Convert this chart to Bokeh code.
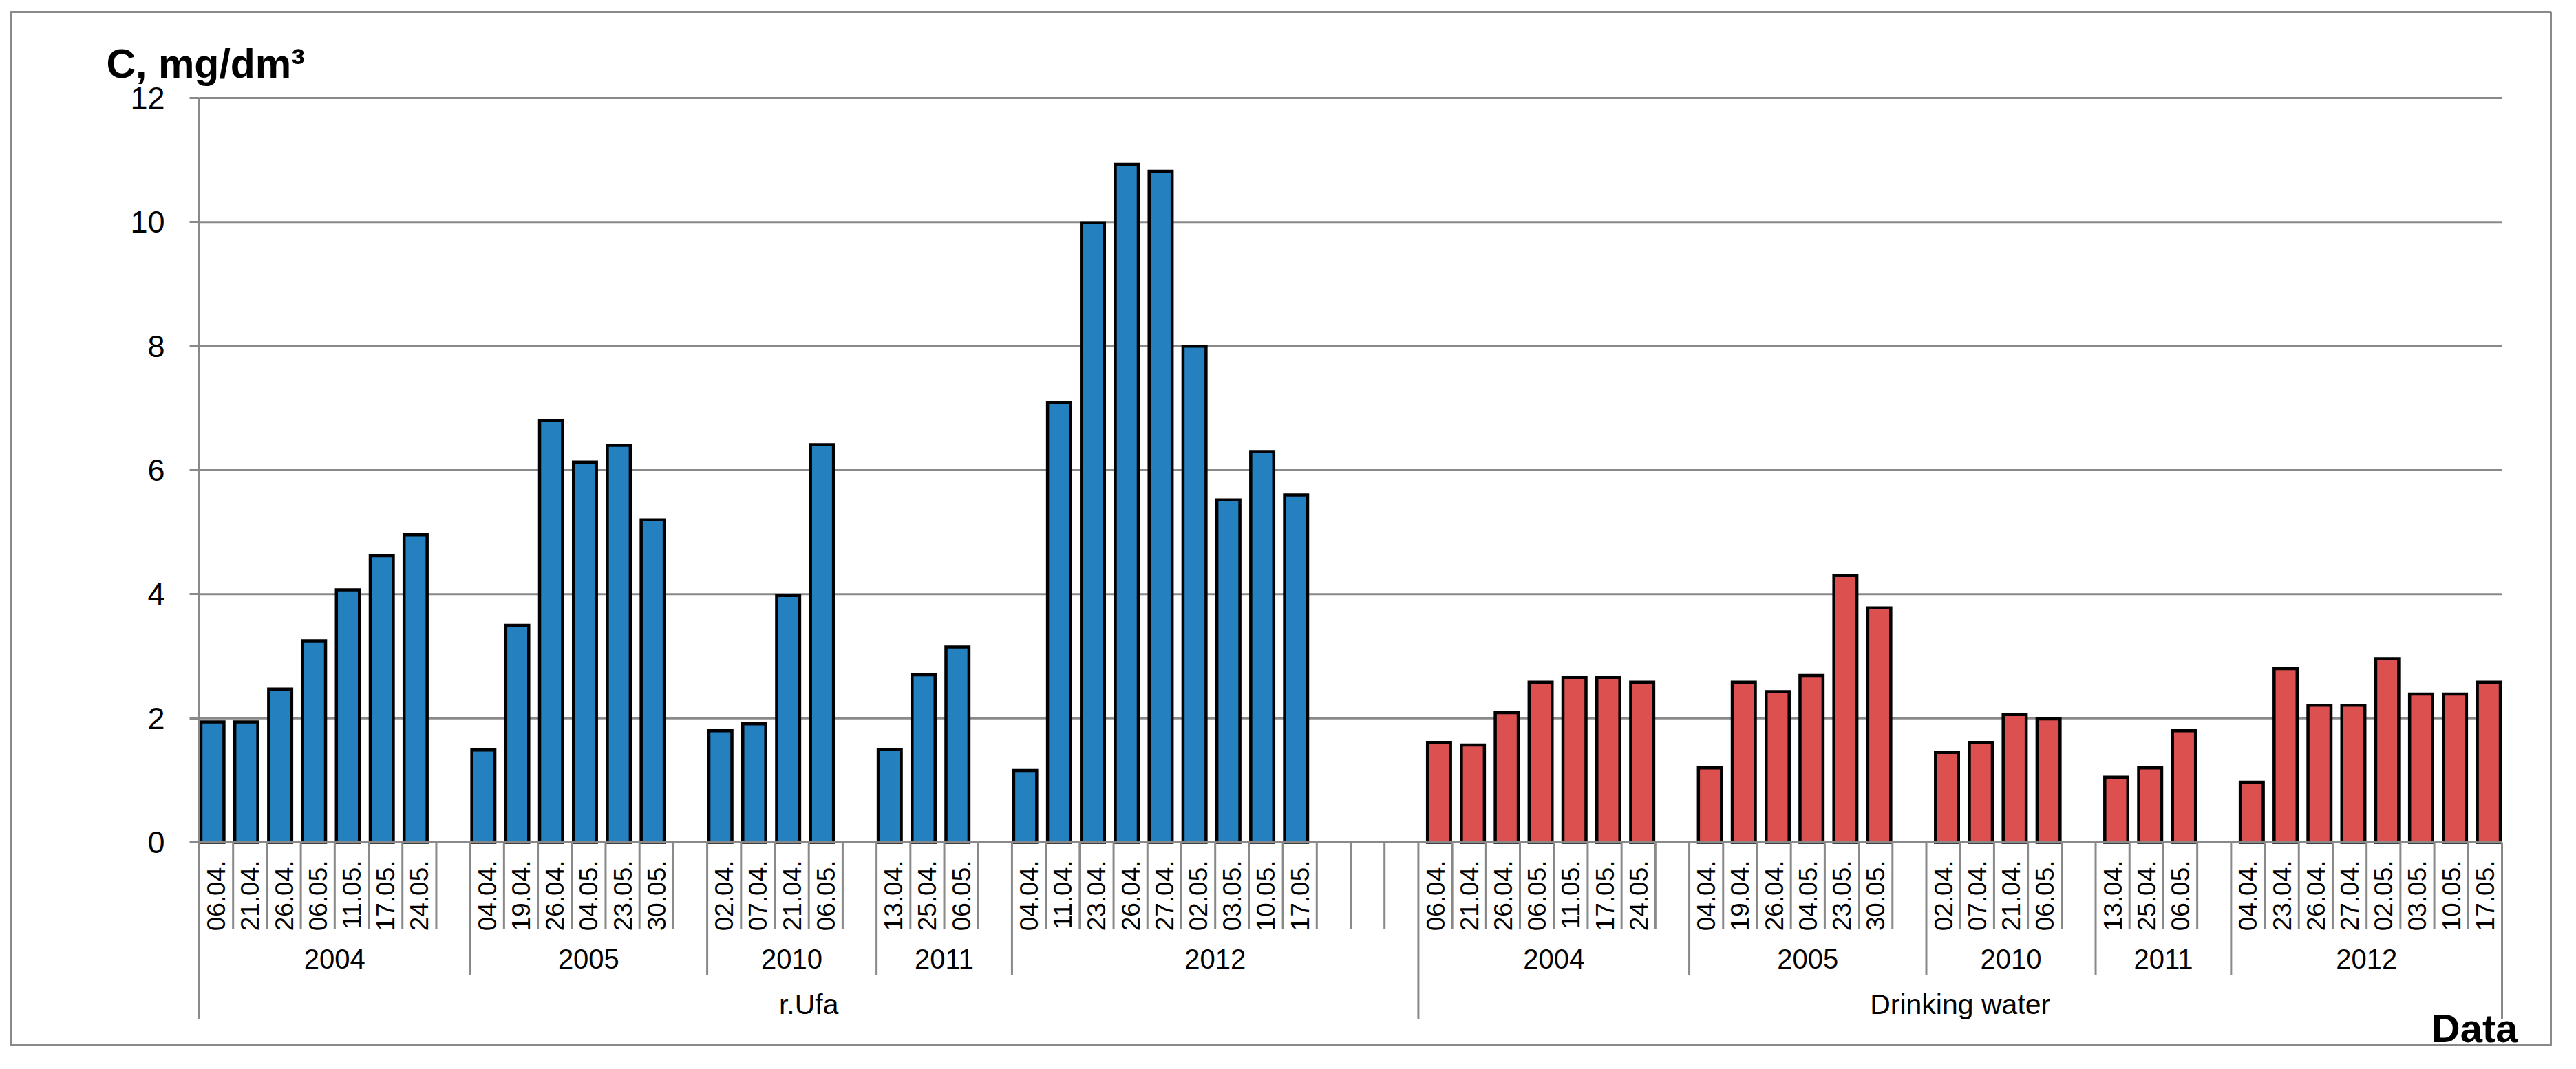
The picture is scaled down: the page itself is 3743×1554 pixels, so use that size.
import math
from bokeh.plotting import figure
from bokeh.models import ColumnDataSource, Range1d, FixedTicker
from bokeh.core.properties import value
from bokeh.embed import file_html
from bokeh.resources import INLINE

# ---------------- data ----------------
groups = ["r.Ufa", "Drinking water"]
years = ["2004", "2005", "2010", "2011", "2012"]

ufa_dates = [
    ["06.04.", "21.04.", "26.04.", "06.05.", "11.05.", "17.05.", "24.05.", ""],
    ["04.04.", "19.04.", "26.04.", "04.05.", "23.05.", "30.05.", ""],
    ["02.04.", "07.04.", "21.04.", "06.05.", ""],
    ["13.04.", "25.04.", "06.05.", ""],
    ["04.04.", "11.04.", "23.04.", "26.04.", "27.04.", "02.05.", "03.05.", "10.05.", "17.05.", "", "", ""],
]
ufa_values = [
    [1.94, 1.94, 2.47, 3.25, 4.07, 4.62, 4.96, None],
    [1.49, 3.5, 6.8, 6.13, 6.4, 5.2, None],
    [1.8, 1.91, 3.98, 6.41, None],
    [1.5, 2.7, 3.15, None],
    [1.16, 7.09, 9.99, 10.93, 10.82, 8.0, 5.52, 6.3, 5.6, None, None, None],
]
drink_dates = [
    ["06.04.", "21.04.", "26.04.", "06.05.", "11.05.", "17.05.", "24.05.", ""],
    ["04.04.", "19.04.", "26.04.", "04.05.", "23.05.", "30.05.", ""],
    ["02.04.", "07.04.", "21.04.", "06.05.", ""],
    ["13.04.", "25.04.", "06.05.", ""],
    ["04.04.", "23.04.", "26.04.", "27.04.", "02.05.", "03.05.", "10.05.", "17.05."],
]
drink_values = [
    [1.61, 1.57, 2.09, 2.58, 2.66, 2.66, 2.58, None],
    [1.2, 2.58, 2.43, 2.69, 4.3, 3.78, None],
    [1.45, 1.61, 2.06, 1.99, None],
    [1.05, 1.2, 1.8, None],
    [0.97, 2.8, 2.21, 2.21, 2.96, 2.39, 2.39, 2.58],
]
y_ticks = [0, 2, 4, 6, 8, 10, 12]
y_title = "C, mg/dm\u00b3"
x_title = "Data"

# ---------------- styles / layout ----------------
FONT = "Liberation Sans"
GRAY = "#898989"
BLUE = "#2580C0"
RED = "#DD5050"
W, H = 3727, 1538

# build category slots from the data
labels, centers = [], []
blue_x, blue_top, red_x, red_top = [], [], [], []
year_spans, group_spans = [], []
k = 0
for gi, (gname, dlist, vlist) in enumerate([(groups[0], ufa_dates, ufa_values),
                                           (groups[1], drink_dates, drink_values)]):
    g0 = k
    for yname, ds, vs in zip(years, dlist, vlist):
        y0 = k
        for d, v in zip(ds, vs):
            labels.append(d)
            centers.append(k + 0.5)
            if v is not None:
                if gi == 0:
                    blue_x.append(k + 0.5 - 0.11)
                    blue_top.append(v)
                else:
                    red_x.append(k + 0.5 + 0.11)
                    red_top.append(v)
            k += 1
        year_spans.append((y0, k, yname))
    group_spans.append((g0, k, gname))
n_slots = k
y_max = max(y_ticks)

# pixel geometry (figure coordinates)
FL, FT, FR, FB = 15, 17, 3706, 1519     # chart border = plot frame
X0_PX, XN_PX = 289, 3635                # first / last category boundary
Y0_PX, YM_PX = 1224, 142                # value 0 / value y_max
PPX = (XN_PX - X0_PX) / n_slots
PPY = (Y0_PX - YM_PX) / y_max

p = figure(width=W, height=H, output_backend="svg", toolbar_location=None,
           x_range=Range1d((FL - X0_PX) / PPX, (FR - X0_PX) / PPX),
           y_range=Range1d((Y0_PX - FB) / PPY, (Y0_PX - FT) / PPY),
           x_axis_location=None, y_axis_location="left",
           min_border_left=FL, min_border_top=FT,
           min_border_right=W - FR, min_border_bottom=H - FB)
p.outline_line_color = GRAY
p.outline_line_width = 3
p.background_fill_color = "white"
p.border_fill_color = "white"
for g in p.grid:
    g.visible = False


def dy(px):
    return (Y0_PX - px) / PPY


def dx(px):
    return (px - X0_PX) / PPX


# y axis, drawn at category boundary 0
ax = p.yaxis[0]
ax.fixed_location = 0
ax.ticker = FixedTicker(ticks=y_ticks)
ax.axis_line_color = None
ax.major_tick_line_color = GRAY
ax.major_tick_line_width = 3
ax.major_tick_out = 14
ax.major_tick_in = 0
ax.minor_tick_line_color = None
ax.major_label_text_font = FONT
ax.major_label_text_font_size = "45px"
ax.major_label_text_color = "black"
ax.major_label_standoff = 36

# horizontal grid lines
p.segment(x0=[0] * len(y_ticks), x1=[n_slots] * len(y_ticks), y0=y_ticks, y1=y_ticks,
          line_color=GRAY, line_width=3)

# bars
p.vbar(x=blue_x, top=blue_top, bottom=0, width=0.68, fill_color=BLUE,
       line_color="black", line_width=4.5, line_join="miter")
p.vbar(x=red_x, top=red_top, bottom=0, width=0.68, fill_color=RED,
       line_color="black", line_width=4.5, line_join="miter")

# x axis base line
p.segment(x0=[0], x1=[n_slots], y0=[0], y1=[0], line_color=GRAY, line_width=3)

# hierarchical category separators (level 1: dates, 2: years, 3: groups)
L1, L2, L3 = dy(1350), dy(1417), dy(1481)
x0s, y0s, y1s = [], [], []
year_bounds = {s for s, e, _ in year_spans} | {e for s, e, _ in year_spans}
group_bounds = {s for s, e, _ in group_spans} | {e for s, e, _ in group_spans}
for b in range(n_slots + 1):
    x0s.append(b)
    y0s.append(y_max if b == 0 else 0)
    if b in group_bounds:
        y1s.append(L3)
    elif b in year_bounds:
        y1s.append(L2)
    else:
        y1s.append(L1)
p.segment(x0=x0s, x1=x0s, y0=y0s, y1=y1s, line_color=GRAY, line_width=3)

# date labels (rotated)
src_d = ColumnDataSource(dict(x=centers, y=[dy(1250)] * len(centers), t=labels))
p.text(x="x", y="y", text="t", source=src_d, angle=math.pi / 2,
       text_align="right", text_baseline="middle",
       text_font=value(FONT), text_font_size=value("37px"), text_color="black")

# year labels
p.text(x=[(s + e) / 2 for s, e, _ in year_spans],
       y=[dy(1393)] * len(year_spans),
       text=[t for _, _, t in year_spans],
       text_align="center", text_baseline="middle",
       text_font=value(FONT), text_font_size=value("40px"), text_color="black")

# group labels
p.text(x=[(s + e) / 2 for s, e, _ in group_spans],
       y=[dy(1459)] * len(group_spans),
       text=[t for _, _, t in group_spans],
       text_align="center", text_baseline="middle",
       text_font=value(FONT), text_font_size=value("41px"), text_color="black")

# axis titles
p.text(x=[dx(154)], y=[dy(92)], text=[y_title], text_align="left", text_baseline="alphabetic",
       text_font=value(FONT), text_font_size=value("59px"), text_font_style="bold",
       text_color="black")
p.text(x=[dx(3658)], y=[dy(1494)], text=[x_title], text_align="right", text_baseline="alphabetic",
       text_font=value(FONT), text_font_size=value("58px"), text_font_style="bold",
       text_color="black")

open("out.html", "w").write(file_html(p, INLINE))
